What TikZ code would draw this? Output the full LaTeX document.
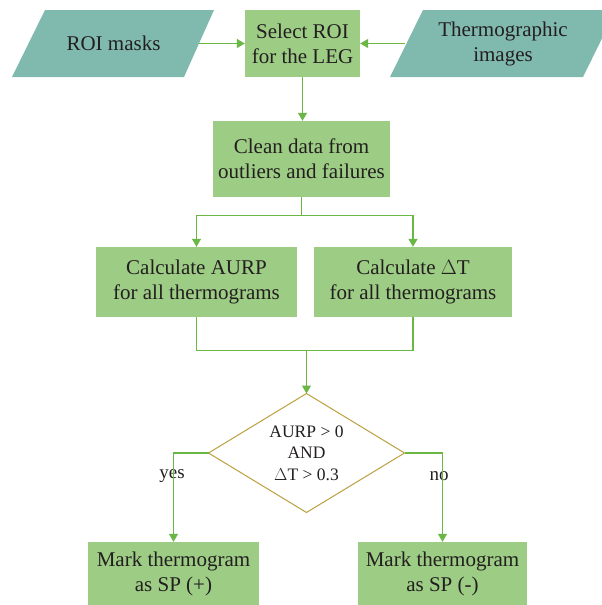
\documentclass[tikz,border=0pt]{standalone}
\usepackage{fontspec}
\setmainfont{Liberation Serif}
\usetikzlibrary{shapes.geometric,arrows.meta}
\definecolor{teal}{HTML}{80B9AE}
\definecolor{boxgreen}{HTML}{9DCC84}
\definecolor{arrowgreen}{HTML}{6BB745}
\definecolor{gold}{HTML}{BBA040}
\definecolor{ink}{HTML}{231F20}
\tikzset{
  stepbox/.style={rectangle, fill=boxgreen, inner sep=0pt, align=center, text=ink,
    font=\fontsize{21}{25}\selectfont},
  iotext/.style={inner sep=0pt, align=center, text=ink,
    font=\fontsize{21}{25}\selectfont},
  decide/.style={diamond, aspect=1.64, draw=gold, line width=1pt, fill=white, inner sep=0pt, outer sep=0pt, align=center, text=ink,
    font=\fontsize{17.5}{21.7}\selectfont},
  flow/.style={draw=arrowgreen, line width=1.2pt, -{Triangle[width=9pt,length=8pt]}},
  plain/.style={draw=arrowgreen, line width=1.2pt},
  lbl/.style={text=ink, font=\fontsize{19}{22}\selectfont}
}
\begin{document}
\begin{tikzpicture}[x=1pt,y=-1pt]
\useasboundingbox (0,0) rectangle (602,605);
\fill[teal] (45,10) -- (214,10) -- (184,77) -- (12,77) -- cycle;
\fill[teal] (423,10) -- (616,10) -- (583,77) -- (390,77) -- cycle;
\coordinate (masksE) at (199,43.5);
\coordinate (thermoW) at (405,43.5);
\node[iotext] (masks) at (113.5,43.5) {ROI masks};
\node[iotext] (thermo) at (503,43.5) {Thermographic\\images};
\node[stepbox, minimum width=115, minimum height=67] (sel) at (302.5,43.5) {Select ROI\\for the LEG};
\node[stepbox, minimum width=177, minimum height=76] (clean) at (301.5,159) {Clean data from\\outliers and failures};
\node[stepbox, minimum width=201, minimum height=70] (aurp) at (196.5,282) {Calculate AURP\\for all thermograms};
\node[stepbox, minimum width=198, minimum height=70] (dt) at (413,282) {Calculate $\Delta$T\\for all thermograms};
\node[decide, minimum width=196, minimum height=119] (dec) at (306.5,453) {AURP > 0\\AND\\$\Delta$T > 0.3};
\node[stepbox, minimum width=171, minimum height=64] (plus) at (173.5,574) {Mark thermogram\\as SP (+)};
\node[stepbox, minimum width=169, minimum height=64] (minus) at (442.5,574) {Mark thermogram\\as SP (-)};
\node[lbl] (yes) at (172,476) {yes};
\node[lbl] (no) at (439,476) {no};
\coordinate (split) at (301.5,215.7);
\coordinate (join) at (306.5,350.7);

\draw[flow] (masksE) -- (sel.west);
\draw[flow] (thermoW) -- (sel.east);
\draw[flow] (sel.south) -- (sel.south |- clean.north);
\draw[plain] (clean.south) -- (split);
\draw[flow] (split) -| (aurp.north);
\draw[flow] (split) -| (dt.north);
\draw[plain] (aurp.south) |- (join) -| (dt.south);
\draw[flow] (join) -- (dec.north);
\draw[flow] (dec.west) -| (plus.north);
\draw[flow] (dec.east) -| (minus.north);
\end{tikzpicture}
\end{document}
